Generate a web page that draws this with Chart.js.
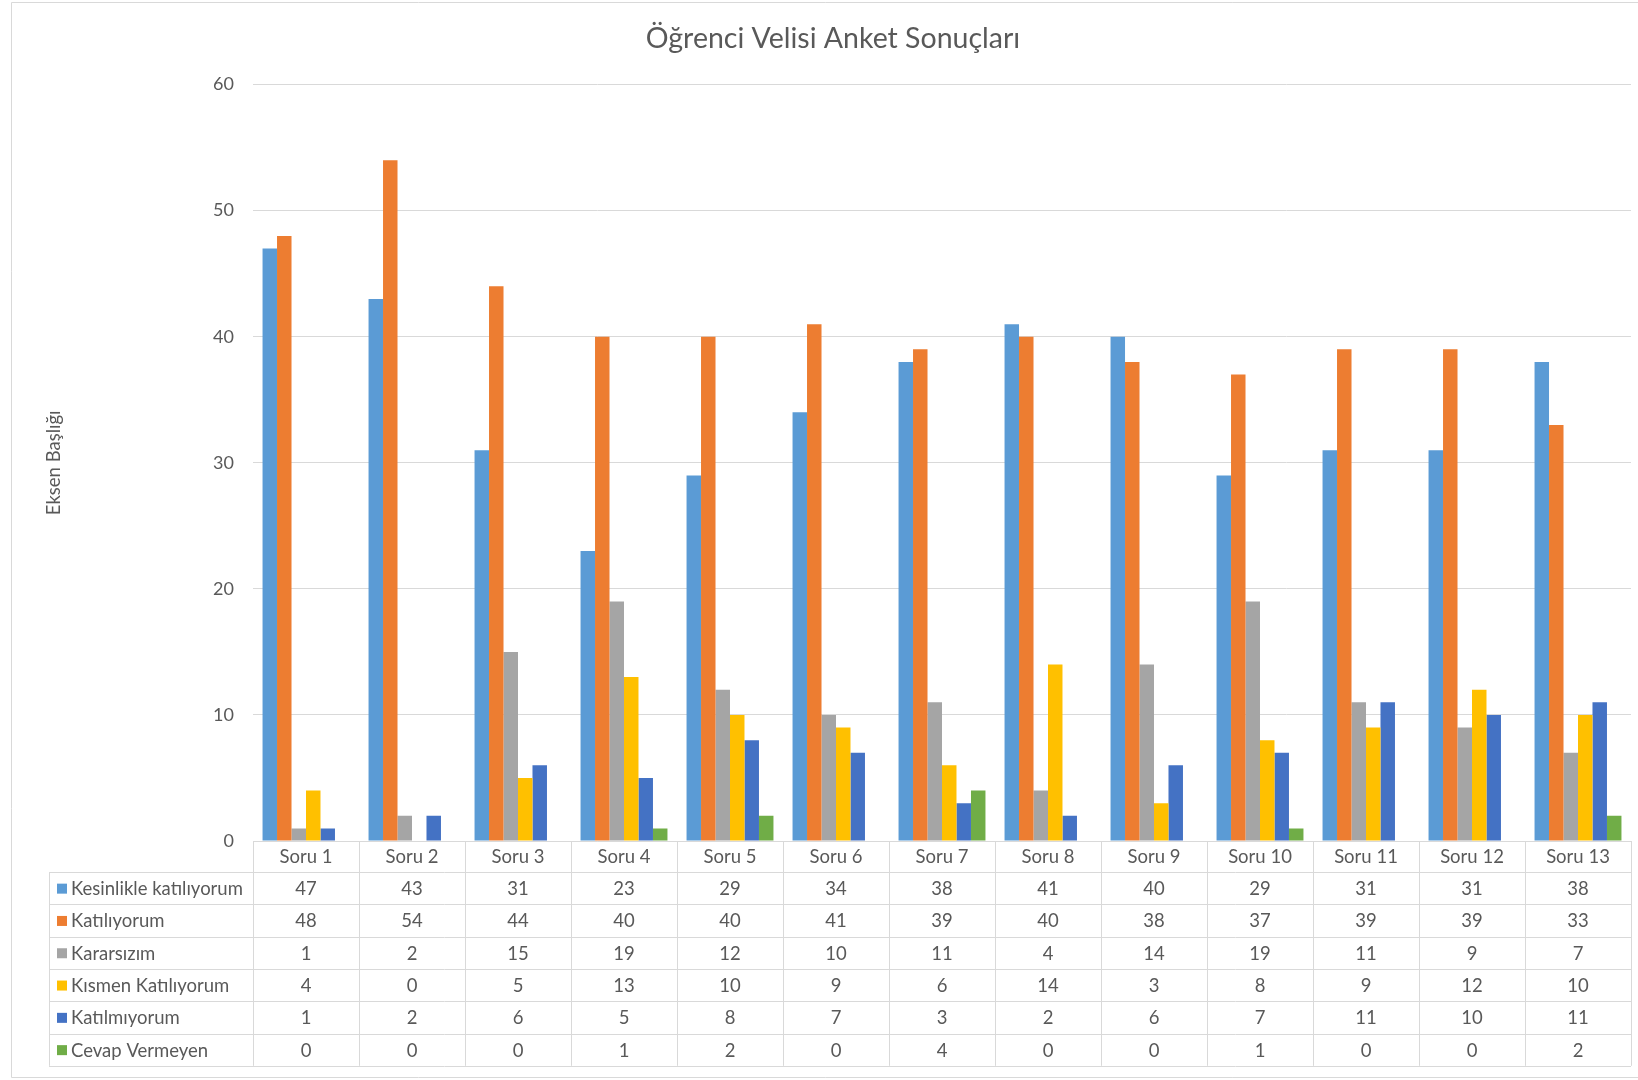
<!DOCTYPE html>
<html>
<head>
<meta charset="utf-8">
<script src="https://cdn.jsdelivr.net/npm/chart.js@4"></script>
<style>
  html, body { margin: 0; padding: 0; background: #fff; }
  #wrap { width: 1638px; height: 1080px; }
</style>
</head>
<body>
<div id="wrap"><canvas id="anket"></canvas></div>
<script>
const categories = ['Soru 1', 'Soru 2', 'Soru 3', 'Soru 4', 'Soru 5', 'Soru 6', 'Soru 7',
                    'Soru 8', 'Soru 9', 'Soru 10', 'Soru 11', 'Soru 12', 'Soru 13'];
const kesinlikle = [47, 43, 31, 23, 29, 34, 38, 41, 40, 29, 31, 31, 38];
const katiliyorum = [48, 54, 44, 40, 40, 41, 39, 40, 38, 37, 39, 39, 33];
const kararsizim = [1, 2, 15, 19, 12, 10, 11, 4, 14, 19, 11, 9, 7];
const kismen = [4, 0, 5, 13, 10, 9, 6, 14, 3, 8, 9, 12, 10];
const katilmiyorum = [1, 2, 6, 5, 8, 7, 3, 2, 6, 7, 11, 10, 11];
const cevapYok = [0, 0, 0, 1, 2, 0, 4, 0, 0, 1, 0, 0, 2];
const yTicks = [0, 10, 20, 30, 40, 50, 60];

const series = [
    { label: 'Kesinlikle katılıyorum', data: kesinlikle, color: '#5B9BD5' },
    { label: 'Katılıyorum', data: katiliyorum, color: '#ED7D31' },
    { label: 'Kararsızım', data: kararsizim, color: '#A5A5A5' },
    { label: 'Kısmen Katılıyorum', data: kismen, color: '#FFC000' },
    { label: 'Katılmıyorum', data: katilmiyorum, color: '#4472C4' },
    { label: 'Cevap Vermeyen', data: cevapYok, color: '#70AD47' },
];

const textColor = '#595959';
const lineColor = '#d9d9d9';
const font = 'Lato';
const fontSize = 18.5;

// draws the data table under the plot, columns taken from the x scale
const dataTable = {
    id: 'dataTable',
    afterLayout(chart) {
        // the chart box runs past the right edge, so the title sits a bit right of centre
        chart.titleBlock.left += 12;
        chart.titleBlock.right += 12;
    },
    afterDraw(chart) {
        const ctx = chart.ctx;
        const area = chart.chartArea;
        const x = chart.scales.x;
        const colW = (area.right - area.left) / categories.length;
        const headerTop = area.bottom;
        const headerH = 31;
        const rowH = 32.3;
        const rowsTop = headerTop + headerH;
        const tableBottom = rowsTop + rowH * series.length;
        const tableLeft = 49;

        ctx.save();
        ctx.strokeStyle = lineColor;
        ctx.lineWidth = 1;
        ctx.beginPath();
        // header top (axis line)
        ctx.moveTo(area.left, headerTop + 0.5);
        ctx.lineTo(area.right, headerTop + 0.5);
        for (let r = 0; r <= series.length; r++) {
            const y = Math.round(rowsTop + r * rowH) + 0.5;
            ctx.moveTo(tableLeft, y);
            ctx.lineTo(area.right, y);
        }
        ctx.moveTo(tableLeft + 0.5, rowsTop);
        ctx.lineTo(tableLeft + 0.5, tableBottom);
        for (let i = 0; i <= categories.length; i++) {
            const cx = Math.round(area.left + i * colW) + 0.5;
            ctx.moveTo(cx, headerTop);
            ctx.lineTo(cx, tableBottom);
        }
        ctx.stroke();

        ctx.fillStyle = textColor;
        ctx.font = fontSize + 'px ' + font;
        ctx.textAlign = 'center';
        ctx.textBaseline = 'middle';
        categories.forEach((c, i) => {
            ctx.fillText(c, x.getPixelForValue(i), headerTop + headerH / 2 + 1);
        });
        series.forEach((s, r) => {
            const cy = rowsTop + r * rowH + rowH / 2 + 1;
            ctx.textAlign = 'center';
            ctx.fillStyle = textColor;
            s.data.forEach((v, i) => {
                ctx.fillText(String(v), x.getPixelForValue(i), cy);
            });
            ctx.fillStyle = s.color;
            ctx.fillRect(tableLeft + 8, cy - 5.5, 10, 10);
            ctx.fillStyle = textColor;
            ctx.textAlign = 'left';
            ctx.fillText(s.label, tableLeft + 22, cy);
        });

        // outer chart border
        ctx.strokeStyle = lineColor;
        ctx.beginPath();
        ctx.moveTo(chart.width + 5, 2.5);
        ctx.lineTo(11.5, 2.5);
        ctx.lineTo(11.5, 1077.5);
        ctx.lineTo(chart.width + 5, 1077.5);
        ctx.stroke();
        ctx.restore();
    }
};

new Chart(
    document.getElementById('anket'),
    {
        type: 'bar',
        data: {
            labels: categories,
            datasets: series.map(s => ({
                label: s.label,
                data: s.data,
                backgroundColor: s.color,
                borderWidth: 0,
                categoryPercentage: 0.82,
                barPercentage: 1
            }))
        },
        options: {
            responsive: true,
            maintainAspectRatio: false,
            animation: false,
            layout: {
                padding: { left: 11, right: 7, top: 0, bottom: 1080 - 841 }
            },
            plugins: {
                legend: { display: false },
                tooltip: { enabled: false },
                title: {
                    display: true,
                    text: 'Öğrenci Velisi Anket Sonuçları',
                    color: textColor,
                    font: { family: font, size: 28.5, weight: 'normal' },
                    padding: { top: 22, bottom: 28.4 }
                }
            },
            scales: {
                x: {
                    display: false
                },
                y: {
                    min: 0,
                    max: 60,
                    afterBuildTicks: scale => {
                        scale.ticks = yTicks.map(v => ({ value: v }));
                    },
                    afterFit: scale => {
                        scale.width = 242;
                    },
                    border: { display: false },
                    grid: { color: lineColor, drawTicks: false },
                    ticks: {
                        color: textColor,
                        font: { family: font, size: 18 },
                        padding: 19
                    },
                    title: {
                        display: true,
                        text: 'Eksen Başlığı',
                        color: textColor,
                        font: { family: font, size: fontSize },
                        padding: { top: 32, bottom: 0 }
                    }
                }
            }
        },
        plugins: [dataTable]
    }
);
</script>
</body>
</html>
